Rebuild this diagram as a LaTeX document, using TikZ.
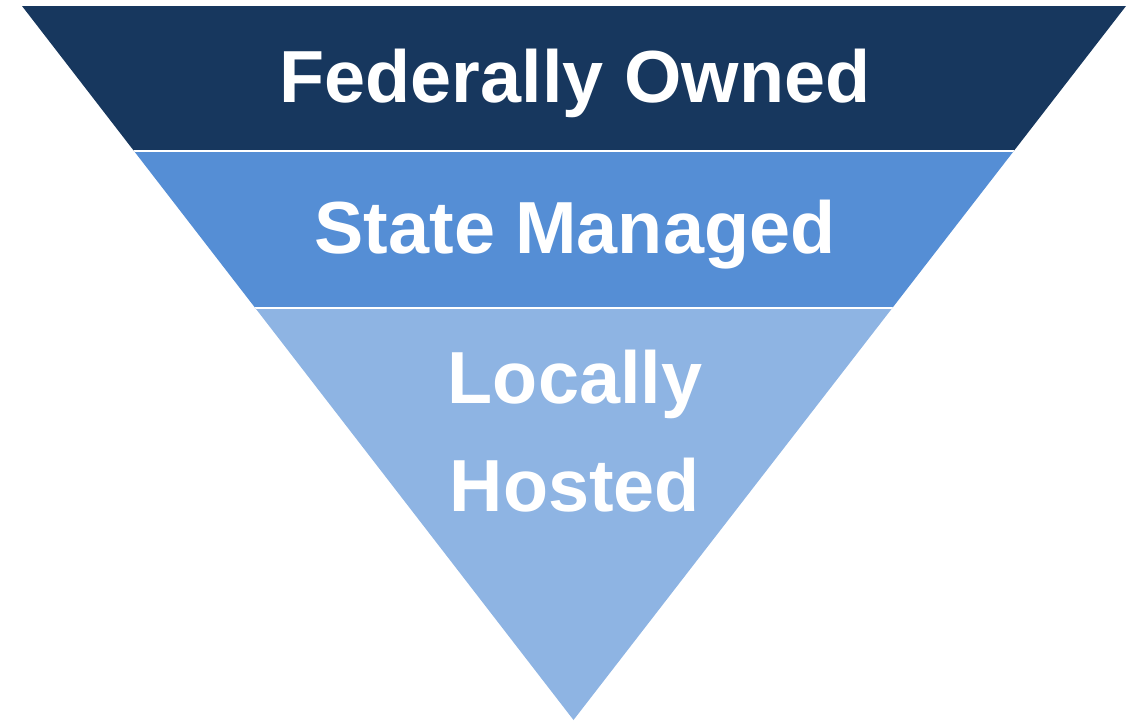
\documentclass[tikz,border=0pt]{standalone}
\usepackage{fontspec}
\setmainfont{Liberation Sans}
\definecolor{bandA}{HTML}{17375E}
\definecolor{bandB}{HTML}{558ED5}
\definecolor{bandC}{HTML}{8EB4E3}
\tikzset{
  label text/.style={text=white, font=\fontsize{42}{61}\selectfont\bfseries, anchor=base, inner sep=0pt},
  gapline/.style={draw=white, line width=1.2pt}
}
\begin{document}
\begin{tikzpicture}[x=0.02cm, y=-0.02cm]
\useasboundingbox (0,0) rectangle (1133,721);
\coordinate (tl) at (22,6);
\coordinate (tr) at (1126,6);
\coordinate (apex) at (573.5,720);
\begin{scope}
  \clip (tl) -- (tr) -- (apex) -- cycle;
  \fill[bandA] (0,0) rectangle (1133,151);
  \fill[bandB] (0,151) rectangle (1133,308);
  \fill[bandC] (0,308) rectangle (1133,721);
  \draw[gapline] (0,151) -- (1133,151);
  \draw[gapline] (0,308) -- (1133,308);
\end{scope}
\node[label text] (fed) at (575,102) {Federally Owned};
\node[label text] (state) at (575,253) {State Managed};
\node[label text] (loc1) at (575,403) {Locally};
\node[label text] (loc2) at (575,511) {Hosted};
\end{tikzpicture}
\end{document}
